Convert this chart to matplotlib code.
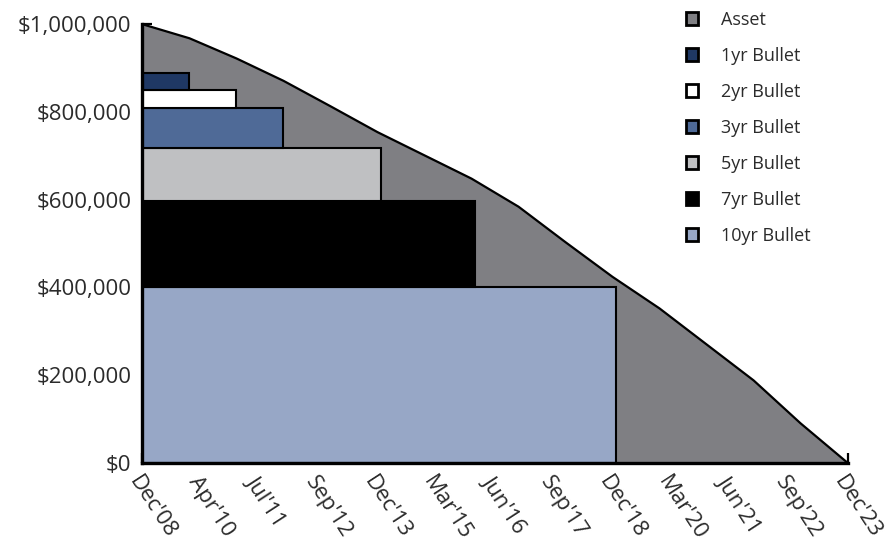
import matplotlib
matplotlib.use("Agg")
import matplotlib.pyplot as plt
from matplotlib.patches import Patch
from matplotlib.ticker import FuncFormatter

plt.rcParams['font.family'] = ['Open Sans', 'DejaVu Sans']

# asset balance, read yearly (months after Dec'08)
asset_months = [0, 12, 24, 36, 48, 60, 72, 84, 96, 108, 120, 132, 144, 156, 168, 180]
asset_values = [1000000, 968000, 922000, 871000, 813000, 754000, 701000, 648000,
                584000, 503000, 424000, 352000, 270000, 188000, 90000, 0]

# bullets, stacked from the bottom up
bullet_names = ["10yr Bullet", "7yr Bullet", "5yr Bullet", "3yr Bullet", "2yr Bullet", "1yr Bullet"]
bullet_amounts = [401000, 195000, 121000, 91000, 42000, 38000]
bullet_months = [121, 85, 61, 36, 24, 12]
bullet_colors = ["#97a7c6", "#000000", "#bfc0c2", "#4f6a97", "#ffffff", "#1f3864"]

tick_months = list(range(0, 181, 15))
tick_labels = ["Dec'08", "Apr'10", "Jul'11", "Sep'12", "Dec'13", "Mar'15", "Jun'16",
               "Sep'17", "Dec'18", "Mar'20", "Jun'21", "Sep'22", "Dec'23"]

asset_color = "#7f7f83"
text_color = "#2b2b2b"

fig = plt.figure(figsize=(8.96, 5.51), dpi=100)
ax = fig.add_axes([0.159, 0.160, 0.787, 0.796])

ax.fill_between(asset_months, asset_values, 0, color=asset_color, linewidth=0, zorder=1)
ax.plot(asset_months, asset_values, color="black", linewidth=1.6, zorder=3)

bottom = 0
for name, amt, w, c in zip(bullet_names, bullet_amounts, bullet_months, bullet_colors):
    ax.bar(0, amt, width=w, bottom=bottom, align="edge", color=c,
           edgecolor="black", linewidth=1.5, zorder=2)
    bottom += amt

ax.set_xlim(0, 180)
ax.set_ylim(0, 1000000)
ax.set_axisbelow(True)

for s in ["top", "right"]:
    ax.spines[s].set_visible(False)
for s in ["left", "bottom"]:
    ax.spines[s].set_linewidth(2.4)
    ax.spines[s].set_color("black")
    ax.spines[s].set_zorder(4)

ax.set_yticks(range(0, 1000001, 200000))
ax.yaxis.set_major_formatter(FuncFormatter(lambda v, p: "${:,.0f}".format(v)))
ax.set_xticks(tick_months)
ax.set_xticklabels(tick_labels, rotation=-57, ha="left", va="top", rotation_mode="anchor")

ax.tick_params(axis="both", direction="in", length=7, width=1.6, color="black",
               labelsize=16, labelcolor=text_color)
ax.tick_params(axis="y", pad=8)
ax.tick_params(axis="x", pad=7)

# legend in listed order
legend_order = ["Asset", "1yr Bullet", "2yr Bullet", "3yr Bullet", "5yr Bullet", "7yr Bullet", "10yr Bullet"]
legend_colors = [asset_color, "#1f3864", "#ffffff", "#4f6a97", "#bfc0c2", "#000000", "#97a7c6"]
handles = [Patch(facecolor=c, edgecolor="black", linewidth=2.0) for c in legend_colors]
fig.legend(handles, legend_order, loc="upper left", bbox_to_anchor=(0.747, 1.01),
           frameon=False, fontsize=13, handlelength=0.7, handleheight=0.7,
           handletextpad=1.25, labelspacing=1.0, labelcolor=text_color)

fig.savefig("out.png", dpi=100)
